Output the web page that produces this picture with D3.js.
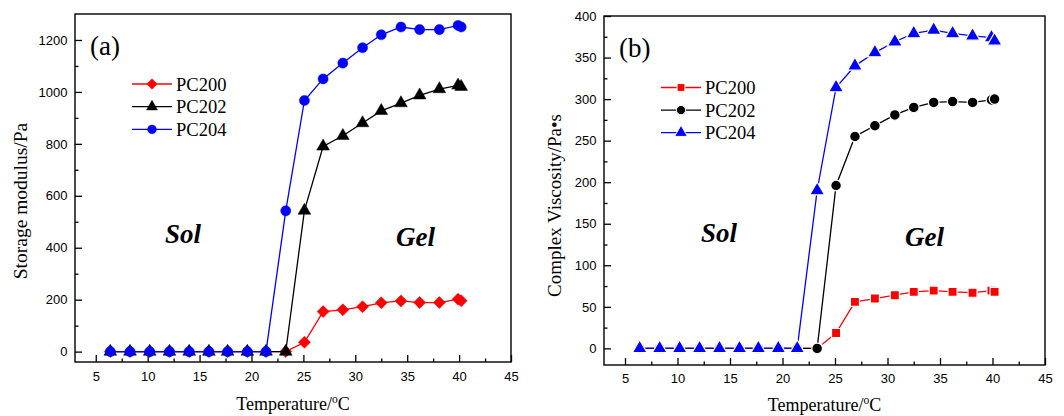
<!DOCTYPE html>
<html>
<head>
<meta charset="utf-8">
<script src="https://cdn.jsdelivr.net/npm/d3@7"></script>
<style>
  body { margin: 0; background: #fff; }
  svg { display: block; }
  .tick text { font-family: "Liberation Sans", Arial, sans-serif; font-size: 13px; fill: #000; }
  .serif { font-family: "Liberation Serif", "Times New Roman", serif; fill: #000; }
</style>
</head>
<body>
<svg id="chart" width="1064" height="416"></svg>
<script>
// temperatures (°C), shared by both panels
const temps = [6.4, 8.3, 10.2, 12.1, 14.0, 15.9, 17.7, 19.6, 21.4, 23.3,
               25.1, 26.9, 28.8, 30.7, 32.5, 34.4, 36.2, 38.1, 39.9, 40.2];

// (a) storage modulus / Pa
const storagePC200 = [0, 0, 0, 0, 0, 0, 0, 0, 0, 0, 36, 154, 161, 173, 188, 195, 189, 189, 202, 196];
const storagePC202 = [0, 0, 0, 0, 0, 0, 0, 0, 0, 0, 543, 790, 831, 880, 927, 957, 987, 1011, 1025, 1020];
const storagePC204 = [0, 0, 0, 0, 0, 0, 0, 0, 0, 542, 967, 1050, 1111, 1170, 1220, 1250, 1240, 1240, 1256, 1250];

// (b) complex viscosity / Pa·s
const viscPC200 = [0, 0, 0, 0, 0, 0, 0, 0, 0, 0, 18.5, 56, 60, 64, 68, 69.5, 68, 67, 69.5, 68];
const viscPC202 = [0, 0, 0, 0, 0, 0, 0, 0, 0, 0, 196, 255, 268, 281, 290, 296, 297, 296, 299, 300];
const viscPC204 = [0, 0, 0, 0, 0, 0, 0, 0, 0, 190, 314, 340, 356, 369, 379, 383, 379, 376, 374, 370];

const seriesNames = ["PC200", "PC202", "PC204"];
const seriesColors = ["#ff0000", "#000000", "#0000ff"];

const xTicks = [5, 10, 15, 20, 25, 30, 35, 40, 45];
const xMinor = [7.5, 12.5, 17.5, 22.5, 27.5, 32.5, 37.5, 42.5];
const yTicksA = [0, 200, 400, 600, 800, 1000, 1200];
const yMinorA = [100, 300, 500, 700, 900, 1100];
const yTicksB = [0, 50, 100, 150, 200, 250, 300, 350, 400];
const yMinorB = [25, 75, 125, 175, 225, 275, 325, 375];

const svg = d3.select("#chart");

function drawPanel(p) {
  const x = d3.scaleLinear().domain([3, 45]).range([p.left, p.right]);
  const y = d3.scaleLinear().domain(p.yDomain).range([p.bottom, p.top]);
  const g = svg.append("g");

  // minor ticks
  g.append("g").attr("transform", `translate(0,${p.bottom})`)
    .call(d3.axisBottom(x).tickValues(xMinor).tickSize(-3.5).tickFormat(""))
    .call(a => a.select(".domain").remove());
  g.append("g").attr("transform", `translate(${p.left},0)`)
    .call(d3.axisLeft(y).tickValues(p.yMinor).tickSize(-3.5).tickFormat(""))
    .call(a => a.select(".domain").remove());

  // major ticks
  g.append("g").attr("transform", `translate(0,${p.bottom})`)
    .call(d3.axisBottom(x).tickValues(xTicks).tickSize(-7).tickPadding(p.xPad).tickFormat(d3.format("d")))
    .call(a => a.select(".domain").remove());
  g.append("g").attr("transform", `translate(${p.left},0)`)
    .call(d3.axisLeft(y).tickValues(p.yTicks).tickSize(-7).tickPadding(7.5).tickFormat(d3.format("d")))
    .call(a => a.select(".domain").remove());
  g.selectAll(".tick line").attr("stroke-width", 1.3);

  // frame
  g.append("rect")
    .attr("x", p.left).attr("y", p.top)
    .attr("width", p.right - p.left).attr("height", p.bottom - p.top)
    .attr("fill", "none").attr("stroke", "#000").attr("stroke-width", 1.4);

  const line = d3.line().x(d => x(d[0])).y(d => y(d[1]));

  p.series.forEach((vals, i) => {
    const pts = temps.map((t, j) => [t, vals[j]]);
    g.append("path").datum(pts)
      .attr("d", line).attr("fill", "none")
      .attr("stroke", seriesColors[i]).attr("stroke-width", 1.3);
    g.selectAll(null).data(pts).enter().append("path")
      .attr("d", d3.symbol().type(p.symbols[i]).size(p.sizes[i]))
      .attr("transform", d => `translate(${x(d[0])},${y(d[1])}) rotate(${p.rot[i]})`)
      .attr("fill", seriesColors[i])
      .attr("stroke", p.outline ? "#fff" : seriesColors[i])
      .attr("stroke-width", p.outline ? 1.2 : 0.5);
  });

  // legend
  seriesNames.forEach((name, i) => {
    const ly = p.legY + i * p.legStep;
    g.append("line").attr("x1", p.legX).attr("x2", p.legX + 40)
      .attr("y1", ly).attr("y2", ly)
      .attr("stroke", seriesColors[i]).attr("stroke-width", 1.3);
    g.append("path")
      .attr("d", d3.symbol().type(p.symbols[i]).size(p.sizes[i] * 0.75))
      .attr("transform", `translate(${p.legX + 20},${ly}) rotate(${p.rot[i]})`)
      .attr("fill", seriesColors[i])
      .attr("stroke", p.outline ? "#fff" : seriesColors[i])
      .attr("stroke-width", p.outline ? 1 : 0.5);
    g.append("text").attr("class", "serif")
      .attr("x", p.legX + 44).attr("y", ly + 6.5)
      .attr("font-size", 18.5).text(name);
  });

  // panel letter, Sol/Gel labels
  g.append("text").attr("class", "serif")
    .attr("x", p.left + 15).attr("y", p.top + 41)
    .attr("font-size", 27).text(p.letter);
  g.append("text").attr("class", "serif")
    .attr("x", p.solX).attr("y", p.solY)
    .attr("font-size", 27).attr("font-weight", "bold").attr("font-style", "italic")
    .text("Sol");
  g.append("text").attr("class", "serif")
    .attr("x", p.gelX).attr("y", p.gelY)
    .attr("font-size", 27).attr("font-weight", "bold").attr("font-style", "italic")
    .text("Gel");

  // axis titles
  const xt = g.append("text").attr("class", "serif")
    .attr("x", (p.left + p.right) / 2).attr("y", p.xTitleY)
    .attr("text-anchor", "middle").attr("font-size", 18);
  xt.append("tspan").text("Temperature/");
  xt.append("tspan").attr("font-size", 11.5).attr("dy", -7.5).text("o");
  xt.append("tspan").attr("dy", 7.5).text("C");

  g.append("text").attr("class", "serif")
    .attr("transform", `translate(${p.yTitleX},${(p.top + p.bottom) / 2 + p.yTitleShift}) rotate(-90)`)
    .attr("text-anchor", "middle").attr("font-size", p.yTitleSize)
    .text(p.yTitle);
}

drawPanel({
  left: 75, right: 511, top: 14, bottom: 362,
  yDomain: [-40, 1300], yTicks: yTicksA, yMinor: yMinorA, xPad: 10,
  series: [storagePC200, storagePC202, storagePC204],
  symbols: [d3.symbolSquare, d3.symbolTriangle, d3.symbolCircle],
  sizes: [72, 70, 80], rot: [45, 0, 0], outline: false,
  legX: 132, legY: 84, legStep: 22.7,
  letter: "(a)", solX: 165, solY: 243, gelX: 396, gelY: 246,
  xTitleY: 410, yTitleX: 27, yTitleShift: 13, yTitleSize: 19.5, yTitle: "Storage modulus/Pa"
});

drawPanel({
  left: 604, right: 1045, top: 16, bottom: 365,
  yDomain: [-20, 400], yTicks: yTicksB, yMinor: yMinorB, xPad: 9,
  series: [viscPC200, viscPC202, viscPC204],
  symbols: [d3.symbolSquare, d3.symbolCircle, d3.symbolTriangle],
  sizes: [82, 90, 95], rot: [0, 0, 0], outline: true,
  legX: 661, legY: 87.5, legStep: 22.6,
  letter: "(b)", solX: 701, solY: 242, gelX: 905, gelY: 246,
  xTitleY: 411, yTitleX: 561, yTitleShift: 15, yTitleSize: 19, yTitle: "Complex Viscosity/Pa\u2022s"
});
</script>
</body>
</html>
